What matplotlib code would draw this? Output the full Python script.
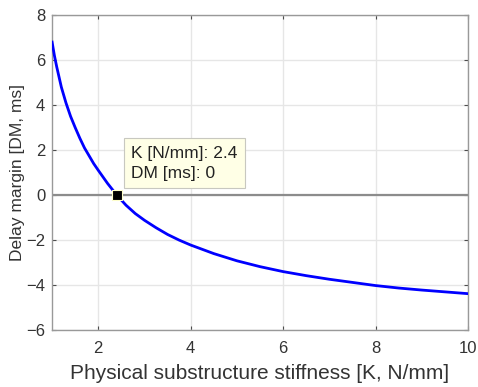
import matplotlib
matplotlib.use("Agg")
import matplotlib.pyplot as plt

plt.rcParams['font.family'] = ['Liberation Sans', 'DejaVu Sans']

# stiffness K [N/mm] and delay margin DM [ms]
stiffness = [1.0, 1.05, 1.1, 1.2, 1.3, 1.4, 1.5, 1.6, 1.7, 1.8, 1.9, 2.0, 2.2,
             2.4, 2.6, 2.8, 3.0, 3.25, 3.5, 3.75, 4.0, 4.5, 5.0, 5.5, 6.0, 6.5,
             7.0, 7.5, 8.0, 8.5, 9.0, 9.5, 10.0]
delay_margin = [6.8, 6.2, 5.7, 4.8, 4.1, 3.5, 3.0, 2.53, 2.1, 1.75, 1.4, 1.1,
                0.52, 0.0, -0.45, -0.82, -1.12, -1.45, -1.75, -2.0, -2.22,
                -2.6, -2.92, -3.18, -3.4, -3.58, -3.74, -3.88, -4.02, -4.13,
                -4.22, -4.3, -4.38]

tip_k = 2.4
tip_dm = 0

xticks = [2, 4, 6, 8, 10]
yticks = [-6, -4, -2, 0, 2, 4, 6, 8]

fig = plt.figure(figsize=(4.78, 3.87), dpi=100)
ax = fig.add_axes([0.109, 0.147, 0.870, 0.814])

ax.axhline(0, color='#8c8c8c', lw=1.6, zorder=1)
ax.plot(stiffness, delay_margin, color='#0000ff', lw=2, zorder=3)
ax.plot([tip_k], [tip_dm], marker='s', ms=7, color='black',
        mec='#ffffcc', mew=0.8, zorder=5)

# data tip
ax.text(2.71, 0.62,
        "K [N/mm]: %.1f\nDM [ms]: %d" % (tip_k, tip_dm),
        fontsize=12.5, color='#222222', linespacing=1.45, zorder=6,
        va='bottom', ha='left',
        bbox=dict(boxstyle='square,pad=0.42', fc='#ffffe6', ec='#c8c8c0', lw=0.8))

ax.set_xlim(1, 10)
ax.set_ylim(-6, 8)
ax.set_xticks(xticks)
ax.set_yticks(yticks)
ax.grid(True, color='#e6e6e6', lw=1)
ax.set_axisbelow(True)
ax.tick_params(direction='in', top=True, right=True, labelsize=12,
               colors='#4d4d4d', labelcolor='#333333', length=3)
ax.tick_params(axis='x', pad=8)
ax.tick_params(axis='y', pad=5)
for s in ax.spines.values():
    s.set_color('#999999')
    s.set_linewidth(1)

ax.set_xlabel("Physical substructure stiffness [K, N/mm]", fontsize=15,
              color='#333333', labelpad=5.5)
ax.set_ylabel("Delay margin [DM, ms]", fontsize=12.5, color='#333333',
              labelpad=0.5)

fig.savefig("out.png", dpi=100)
